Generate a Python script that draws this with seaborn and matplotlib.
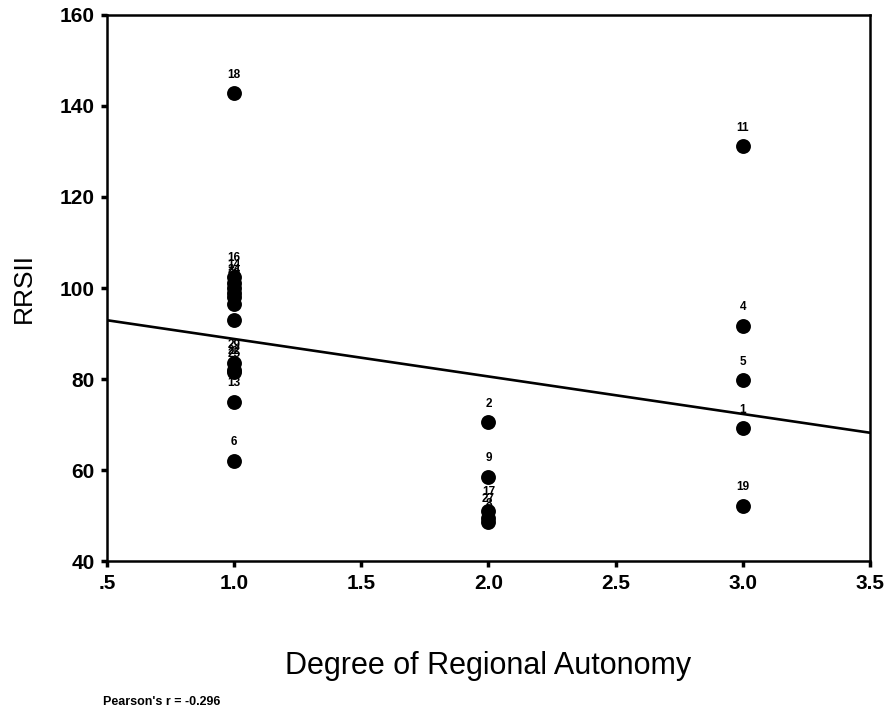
import matplotlib
matplotlib.use("Agg")
import matplotlib.pyplot as plt
import seaborn as sns
import pandas as pd

# Case numbers, degree of regional autonomy and RRSII score per case
case_ids = ["18", "16", "14", "24", "20", "12", "26", "7", "29", "22", "25", "13", "6",
            "2", "9", "17", "27", "8",
            "11", "4", "5", "1", "19"]
autonomy = [1.0, 1.0, 1.0, 1.0, 1.0, 1.0, 1.0, 1.0, 1.0, 1.0, 1.0, 1.0, 1.0,
            2.0, 2.0, 2.0, 2.0, 2.0,
            3.0, 3.0, 3.0, 3.0, 3.0]
rrsii = [142.8, 102.5, 101.0, 100.0, 99.0, 98.0, 96.5, 93.0, 83.5, 82.0, 81.5, 75.0, 62.0,
         70.5, 58.5, 51.0, 49.5, 48.5,
         131.2, 91.7, 79.7, 69.2, 52.2]

x_ticks = [0.5, 1.0, 1.5, 2.0, 2.5, 3.0, 3.5]
x_tick_labels = [".5", "1.0", "1.5", "2.0", "2.5", "3.0", "3.5"]
y_ticks = [40, 60, 80, 100, 120, 140, 160]
pearson_text = "Pearson's r = -0.296"

df = pd.DataFrame({"case": case_ids, "autonomy": autonomy, "rrsii": rrsii})

sns.set_theme(style="white")
plt.rcParams["font.family"] = ["Liberation Sans", "DejaVu Sans"]
plt.rcParams.update({"text.color": "black", "axes.labelcolor": "black",
                     "xtick.color": "black", "ytick.color": "black"})

fig = plt.figure(figsize=(8.84, 7.12), dpi=100)
ax = fig.add_axes([0.121, 0.212, 0.863, 0.767])
ax.set_xlim(0.5, 3.5)
ax.set_ylim(40, 160)

sns.scatterplot(data=df, x="autonomy", y="rrsii", ax=ax, color="black",
                s=115, edgecolor="black", linewidth=0, zorder=3)
sns.regplot(data=df, x="autonomy", y="rrsii", ax=ax, scatter=False, ci=None,
            truncate=False, color="black", line_kws={"linewidth": 1.9})

for cid, xv, yv in zip(df["case"], df["autonomy"], df["rrsii"]):
    ax.annotate(cid, (xv, yv), xytext=(0, 9), textcoords="offset points",
                ha="center", va="bottom", fontsize=8.5, fontweight="bold",
                color="black", zorder=4)

ax.set_xlim(0.5, 3.5)
ax.set_ylim(40, 160)
ax.set_xticks(x_ticks)
ax.set_xticklabels(x_tick_labels)
ax.set_yticks(y_ticks)
ax.tick_params(axis="both", direction="out", length=4, width=2.5, color="black",
               labelcolor="black", labelsize=15, pad=5, bottom=True, left=True)
for lab in ax.get_xticklabels() + ax.get_yticklabels():
    lab.set_fontweight("bold")

for sp in ax.spines.values():
    sp.set_color("black")
    sp.set_linewidth(1.8)

ax.set_xlabel("Degree of Regional Autonomy", fontsize=22, labelpad=42, color="black")
ax.set_ylabel("RRSII", fontsize=19, labelpad=17, color="black")
ax.grid(False)

fig.text(0.116, 0.005, pearson_text, fontsize=9, fontweight="bold", ha="left",
         va="bottom", color="black")

fig.savefig("out.png", dpi=100, facecolor="white")
